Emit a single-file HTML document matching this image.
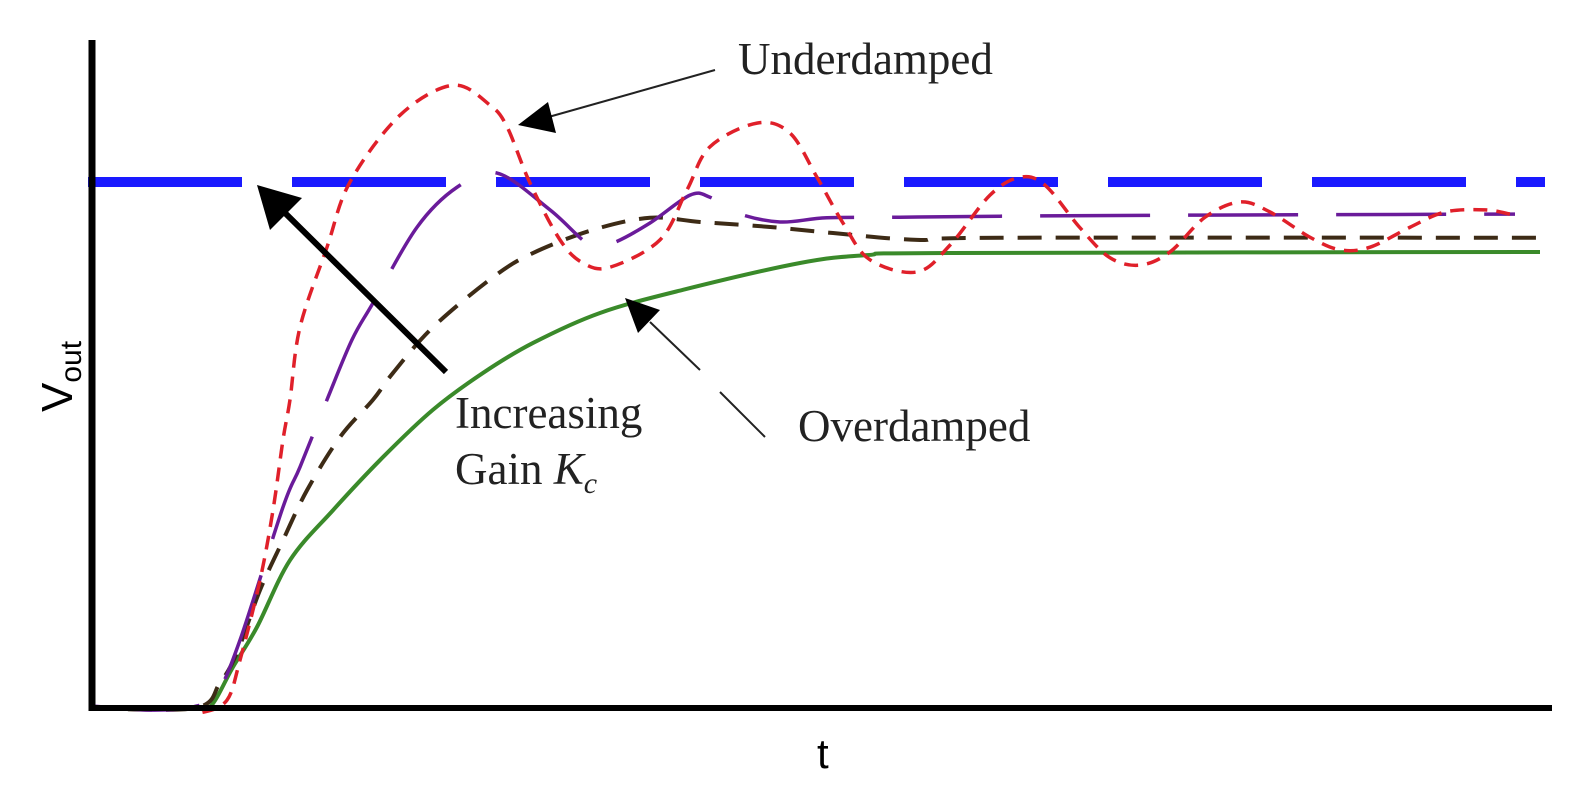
<!DOCTYPE html>
<html><head><meta charset="utf-8"><style>
html,body{margin:0;padding:0;background:#fff;}
svg{display:block;}
.serif{font-family:"Liberation Serif",serif;fill:#222;}
.sans{font-family:"Liberation Sans",sans-serif;fill:#000;}
</style></head><body>
<svg id="chart" width="1586" height="808" viewBox="0 0 1586 808" xmlns="http://www.w3.org/2000/svg">
<g id="series"></g>
<line x1="92" y1="40" x2="92" y2="711" stroke="#000" stroke-width="7"/>
<line x1="89" y1="708" x2="1552" y2="708" stroke="#000" stroke-width="6"/>
<text class="sans" font-size="44" transform="translate(72,412) rotate(-90)">V<tspan font-size="30" dy="9">out</tspan></text>
<text class="sans" font-size="42" x="817" y="768">t</text>
<text class="serif" font-size="45" x="738" y="74">Underdamped</text>
<line x1="715" y1="70" x2="545" y2="118" stroke="#222" stroke-width="2"/>
<polygon points="518,125 548,102 556,133" fill="#000"/>
<text class="serif" font-size="45" x="455" y="428">Increasing</text>
<text class="serif" font-size="45" x="455" y="484">Gain <tspan font-style="italic">K<tspan font-size="30" dy="9">c</tspan></tspan></text>
<line x1="446" y1="372" x2="282" y2="210" stroke="#000" stroke-width="6"/>
<polygon points="257,185 302,198 270,230" fill="#000"/>
<text class="serif" font-size="45" x="798" y="441">Overdamped</text>
<line x1="765" y1="437" x2="720" y2="392" stroke="#222" stroke-width="2"/>
<line x1="700" y1="370" x2="650" y2="322" stroke="#222" stroke-width="2"/>
<polygon points="625,298 660,310 638,333" fill="#000"/>
</svg>
<script>
// data: time in 0..145, response normalized to setpoint = 1
const setpoint = 1;
const redT = [0,10,11.3,13.7,15,17,18.3,19.3,20,21,23.7,26,31,36.3,40,41.7,44,47,49.3,52,57,59.7,62,66.7,70,72.7,75.3,78,82.7,86,90,93,95.5,99,102,105,108,111.5,115,118,122,125,128,132,135.5,139.5,142];
const redY = [0,0,-0.008,0.015,0.091,0.243,0.376,0.51,0.586,0.724,0.876,1.0,1.127,1.184,1.146,1.105,0.998,0.89,0.846,0.838,0.89,0.985,1.067,1.112,1.093,1.009,0.922,0.852,0.829,0.88,0.975,1.009,0.994,0.913,0.856,0.842,0.867,0.933,0.962,0.943,0.895,0.871,0.876,0.914,0.943,0.947,0.939];
const purpleT = [0,6,10.3,12.7,15,19.3,21,23.7,26.2,28.3,32.7,36.7,40.7,46,50,52.3,56,60,62,64.7,69,73.7,81,91,111,142.5];
const purpleY = [0.004,-0.004,0.002,0.029,0.129,0.382,0.458,0.586,0.7,0.77,0.914,0.99,1.017,0.947,0.88,0.884,0.922,0.975,0.971,0.941,0.924,0.932,0.933,0.935,0.937,0.939];
const brownT = [0,10.5,13,14.7,17,19.3,21.7,25,28.3,30.3,34.3,40.3,44.3,50.3,56,61,67.7,74.3,82.7,91,145];
const brownY = [0,0,0.048,0.105,0.224,0.319,0.414,0.515,0.586,0.637,0.724,0.819,0.865,0.909,0.932,0.924,0.915,0.903,0.89,0.894,0.894];
const greenT = [0,10,12,14.3,16.7,20,24.3,29.3,34.3,39.3,44.3,51,59.3,71,77.7,86,145];
const greenY = [0,0,0.002,0.078,0.154,0.281,0.376,0.477,0.567,0.637,0.694,0.751,0.795,0.846,0.861,0.865,0.867];

const X0=90,X1=1540,TMAX=145,Y0=708,Y1=182;
const xs=t=>X0+(X1-X0)*t/TMAX;
const ys=v=>Y0-(Y0-Y1)*v;
function path(T,V){
  const p=T.map((t,i)=>[xs(t),ys(V[i])]);
  let d=`M${p[0][0]},${p[0][1]}`;
  for(let i=0;i<p.length-1;i++){
    const a=p[Math.max(0,i-1)],b=p[i],c=p[i+1],e=p[Math.min(p.length-1,i+2)];
    const c1=[b[0]+(c[0]-a[0])/6,b[1]+(c[1]-a[1])/6];
    const c2=[c[0]-(e[0]-b[0])/6,c[1]-(e[1]-b[1])/6];
    d+=` C${c1[0]},${c1[1]} ${c2[0]},${c2[1]} ${c[0]},${c[1]}`;
  }
  return d;
}
const g=document.getElementById('series');
const NS='http://www.w3.org/2000/svg';
function add(name,d,stroke,w,dash){
  const el=document.createElementNS(NS,'path');
  el.setAttribute('d',d);el.setAttribute('fill','none');
  el.setAttribute('stroke',stroke);el.setAttribute('stroke-width',w);
  if(dash)el.setAttribute('stroke-dasharray',dash);
  
  
  g.appendChild(el);
}
add('setpoint-line',`M88,${ys(setpoint)} L${X1+5},${ys(setpoint)}`,'#1a1aff',10,'154 50');
add('overdamped-curve',path(greenT,greenY),'#3a8a2a',4,null);
add('critically-damped-curve',path(brownT,brownY),'#3d2b16',4,'24 14');
add('moderate-gain-curve',path(purpleT,purpleY),'#6a1b9a',3.5,'110 38');
add('underdamped-curve',path(redT,redY),'#e0202a',3.5,'14 9');
</script>
</body></html>
